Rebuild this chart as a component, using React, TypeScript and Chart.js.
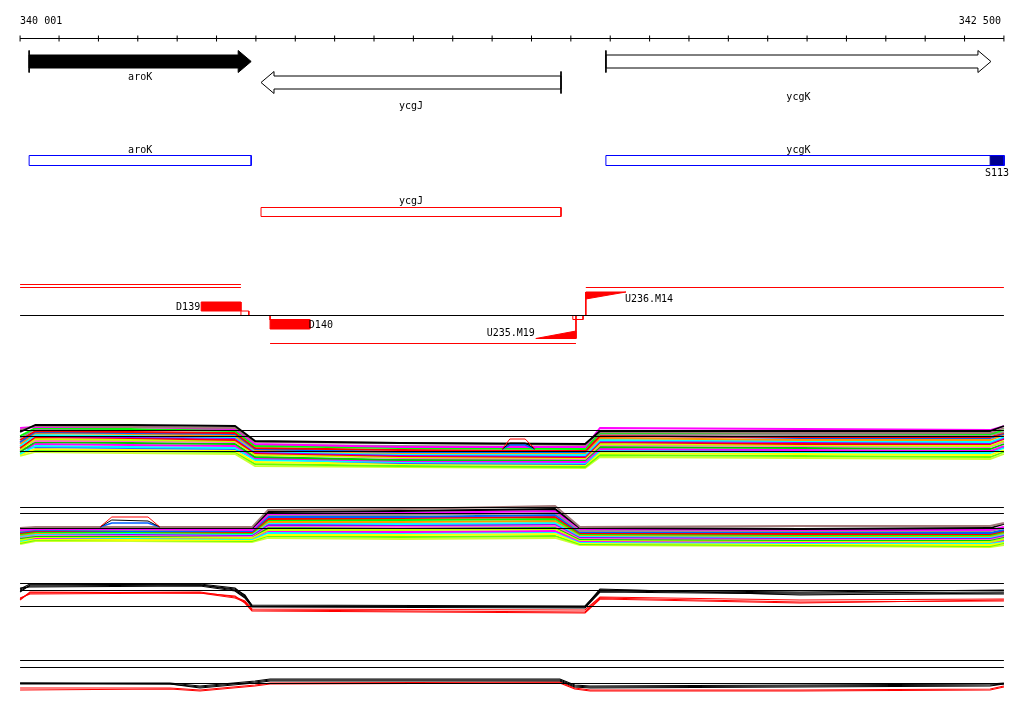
import React, { useEffect, useRef } from 'react';
import { Chart, registerables } from 'chart.js';

Chart.register(...registerables);

// ================= DATA =================
const RULER_TICKS = [
  340001, 340100, 340200, 340300, 340400, 340500, 340600, 340700, 340800, 340900,
  341000, 341100, 341200, 341300, 341400, 341500, 341600,
  341700, 341800, 341900, 342000, 342100, 342200, 342300, 342400, 342500,
];
const RULER_LABELS = ['340 001', '342 500'];
const RULER_LABEL_POS = [340001, 342500];

const GENE_NAMES = ['aroK', 'ycgJ', 'ycgK'];
const GENE_START = [340024, 340613, 341489];
const GENE_END = [340588, 341375, 342467];
const GENE_STRAND = [1, -1, 1];

const CDS_NAMES = ['aroK', 'ycgJ', 'ycgK'];
const CDS_START = [340024, 340613, 341489];
const CDS_END = [340588, 341375, 342500];
const SITE_NAMES = ['S113'];
const SITE_START = [342465];
const SITE_END = [342500];

const SEG_NAMES = ['D139', 'D140', 'U235.M19', 'U236.M14'];
const SEG_START = [340461, 340636, 341311, 341438];
const SEG_END = [340562, 340737, 341413, 341540];
const LINK_START = [340562, 341405];
const LINK_END = [340582, 341431];
const SPAN_START = [340001, 340001, 340636, 341438];
const SPAN_END = [340562, 340562, 341413, 342500];

// Track 1 (coloured profiles)
const T1_X = [340001, 340040, 340280, 340547, 340598, 340966, 341436, 341474, 341982, 342465, 342500];
const T1_REF = [430.5, 436.5, 451.5];
const T1_SERIES = [
  [432, 425, 425, 426, 441, 443, 444, 431, 431, 431, 426],
  [430, 426, 427, 428, 442, 443, 445, 432, 433, 433, 428],
  [428, 427, 427, 429, 444, 447, 447, 428, 429, 430, 426],
  [436, 428, 429, 431, 446, 448, 449, 433, 433, 434, 430],
  [438, 429, 430, 430, 445, 446, 447, 434, 435, 435, 432],
  [440, 431, 432, 433, 448, 450, 451, 436, 437, 437, 433],
  [442, 432, 433, 434, 449, 452, 452, 435, 438, 438, 434],
  [444, 433, 434, 436, 450, 453, 453, 438, 440, 440, 435],
  [446, 435, 436, 437, 451, 454, 455, 440, 441, 442, 437],
  [443, 436, 437, 438, 452, 455, 456, 441, 442, 443, 438],
  [448, 437, 438, 440, 453, 456, 457, 442, 444, 444, 439],
  [450, 439, 440, 441, 455, 457, 458, 444, 445, 446, 441],
  [447, 441, 441, 442, 454, 458, 459, 445, 446, 447, 442],
  [452, 442, 443, 444, 457, 460, 460, 447, 448, 449, 444],
  [451, 444, 445, 446, 458, 461, 462, 449, 450, 451, 446],
  [454, 446, 447, 448, 460, 462, 463, 451, 452, 453, 448],
  [449, 447, 448, 449, 459, 463, 464, 450, 451, 452, 447],
  [455, 449, 450, 451, 462, 464, 465, 453, 454, 455, 450],
  [453, 450, 451, 452, 464, 466, 467, 455, 456, 457, 452],
  [456, 452, 453, 454, 466, 467, 468, 457, 458, 459, 454],
];
const T1_BUMP_X = [341226, 341245, 341284, 341309];
const T1_BUMP_RED = [449, 439, 439, 449];
const T1_BUMP_BLACK = [449, 443, 443, 449];
const T1_BUMP_BLUE = [449, 445, 445, 449];

// Track 2 (coloured profiles)
const T2_X = [340001, 340040, 340280, 340590, 340631, 340966, 341360, 341423, 341982, 342465, 342500];
const T2_REF = [507.5, 513.5, 528.5];
const T2_SERIES = [
  [528, 527, 527, 527, 510, 509, 506, 527, 526, 526, 523],
  [528, 528, 528, 528, 512, 511, 509, 528, 529, 528, 524],
  [530, 529, 529, 530, 514, 513, 511, 529, 530, 530, 527],
  [531, 529, 530, 530, 515, 515, 513, 531, 531, 531, 528],
  [532, 530, 531, 531, 517, 517, 515, 532, 532, 533, 530],
  [533, 531, 531, 532, 519, 518, 517, 533, 534, 534, 531],
  [534, 532, 532, 533, 520, 520, 519, 534, 535, 535, 532],
  [535, 533, 532, 533, 522, 522, 521, 535, 536, 536, 533],
  [536, 534, 533, 534, 523, 524, 523, 536, 537, 537, 534],
  [535, 534, 534, 535, 525, 525, 524, 537, 538, 538, 535],
  [537, 535, 535, 536, 526, 527, 526, 538, 539, 539, 536],
  [538, 536, 536, 536, 528, 528, 527, 539, 540, 540, 537],
  [540, 537, 537, 538, 530, 530, 529, 540, 541, 542, 539],
  [539, 538, 537, 538, 531, 532, 531, 541, 542, 542, 540],
  [541, 538, 538, 539, 533, 533, 532, 542, 543, 543, 541],
  [542, 539, 540, 540, 535, 535, 534, 543, 544, 545, 542],
  [543, 540, 540, 541, 536, 537, 536, 544, 545, 546, 543],
  [544, 541, 541, 542, 538, 539, 538, 545, 546, 547, 545],
  [536, 535, 535, 536, 529, 529, 528, 538, 538, 539, 536],
  [534, 534, 534, 535, 527, 526, 525, 537, 537, 538, 535],
];
const T2_BUMP_X = [340204, 340234, 340326, 340356];
const T2_BUMP_RED = [527, 517, 517, 527];
const T2_BUMP_BLACK = [527, 520, 521, 527];
const T2_BUMP_BLUE = [527, 523, 523, 527];

// Track 3 (black / red profiles)
const T3_X = [340001, 340026, 340458, 340547, 340572, 340590, 341436, 341474, 341982, 342500];
const T3_REF = [583.5, 590.5, 606.5];
const T3_BLACK = [
  [592, 585, 584, 588, 596, 605, 606, 590, 592, 590],
  [590, 586, 585, 590, 597, 606, 607, 591, 593, 592],
  [588, 587, 586, 591, 598, 607, 608, 592, 594, 594],
  [589, 584, 585, 589, 595, 606, 607, 589, 595, 593],
];
const T3_RED = [
  [599, 593, 592, 597, 601, 609, 610, 597, 600, 599],
  [598, 594, 593, 598, 602, 610, 612, 598, 602, 601],
  [600, 592, 593, 596, 603, 611, 613, 599, 603, 600],
];

// Track 4 (black / red profiles)
const T4_X = [340001, 340382, 340458, 340598, 340636, 341372, 341410, 341449, 341982, 342465, 342500];
const T4_REF = [660.5, 667.5, 683.5];
const T4_BLACK = [
  [683, 683, 686, 681, 679, 679, 685, 686, 685, 684, 683],
  [684, 684, 687, 682, 680, 680, 686, 687, 686, 685, 684],
  [683, 684, 688, 683, 681, 681, 687, 688, 687, 686, 684],
];
const T4_RED = [
  [688, 688, 690, 685, 683, 682, 688, 690, 690, 689, 686],
  [690, 689, 691, 686, 684, 683, 689, 691, 691, 690, 687],
];

// ================= LAYOUT / STYLE =================
const X_MIN = 339950;
const X_MAX = 342551;
const FONT = '10px "DejaVu Sans Mono", "Liberation Mono", monospace';
const RED = '#ff0000';
const BLUE = '#0000ff';
const NAVY = '#000090';

const RULER_Y = 38.5;
const RULER_LABEL_Y = 24;
const GENE_Y = [61.5, 82.5, 61.5];
const GENE_BODY = 6.5;
const GENE_HEAD = 11;
const GENE_HEAD_LEN = 33;
const GENE_FILLED = [true, false, false];
const GENE_LABEL_Y = [80, 109, 100];
const CDS_TOP = [155.5, 207.5, 155.5];
const CDS_BOTTOM = [165.5, 216.5, 165.5];
const CDS_COLOR = [BLUE, RED, BLUE];
const CDS_LABEL_Y = [153, 204, 153];
const SITE_LABEL_Y = [176];

const BASE_Y = 315.5;
const SPAN_Y = [284.5, 287.5, 343.5, 287.5];
const SEG_SHAPE = ['rectUp', 'rectDown', 'triDown', 'triUp'];
const SEG_TOP = [302, 319.5, 331, 292];
const SEG_BOTTOM = [311, 329, 338.5, 299];
const SEG_STEM_FROM = [0, 315.5, 315.5, 292];
const SEG_STEM_TO = [0, 320, 338.5, 315.5];
const SEG_LABEL_Y = [310, 327.5, 335.5, 302];
const SEG_LABEL_SIDE = ['left', 'right', 'left', 'right'];
const LINK_TOP = [311, 315.5];
const LINK_BOTTOM = [315.5, 319.5];

const T1_COLORS = ['#000000', '#a07878', '#ff00ff', '#00ff00', '#909090', '#ff0000', '#0060ff', '#ff9900', '#00ffff', '#9900ff',
  '#ff0000', '#ccff00', '#ff66cc', '#00cc00', '#ff00ff', '#00ffff', '#3366ff', '#ffff00', '#66ff00', '#ccff33'];
const T2_COLORS = ['#a07878', '#000000', '#ff00ff', '#909090', '#0060ff', '#ff0000', '#00ff00', '#ff9900', '#00ffff', '#9900ff',
  '#ff66cc', '#00cc00', '#ccff00', '#ff00ff', '#00ffff', '#ffff00', '#66ff00', '#ccff33', '#ff0000', '#3366ff'];

// ================= HELPERS =================
type P = { x: number; y: number };
const pts = (xs: number[], ys: number[]): P[] => xs.map((x, i) => ({ x, y: ys[i] }));
const rect = (x0: number, x1: number, y0: number, y1: number): P[] => [
  { x: x0, y: y0 }, { x: x1, y: y0 }, { x: x1, y: y1 }, { x: x0, y: y1 }, { x: x0, y: y0 },
];
function lineDs(data: P[], color: string, width: number, extra: any = {}) {
  return {
    data, borderColor: color, backgroundColor: color, borderWidth: width,
    pointRadius: 0, pointHoverRadius: 0, fill: false, tension: 0, ...extra,
  };
}
function arrow(i: number): P[] {
  const s = GENE_START[i], e = GENE_END[i], c = GENE_Y[i];
  const t = c - GENE_BODY, b = c + GENE_BODY, ht = c - GENE_HEAD, hb = c + GENE_HEAD;
  if (GENE_STRAND[i] > 0) {
    const hx = e - GENE_HEAD_LEN;
    return [{ x: s, y: t }, { x: hx, y: t }, { x: hx, y: ht }, { x: e, y: c }, { x: hx, y: hb }, { x: hx, y: b }, { x: s, y: b }, { x: s, y: t }];
  }
  const hx = s + GENE_HEAD_LEN;
  return [{ x: e, y: t }, { x: hx, y: t }, { x: hx, y: ht }, { x: s, y: c }, { x: hx, y: hb }, { x: hx, y: b }, { x: e, y: b }, { x: e, y: t }];
}

function buildDatasets(): any[] {
  const ds: any[] = [];
  const full = [340001, 342500];
  // ruler
  ds.push(lineDs(pts(full, [RULER_Y, RULER_Y]), '#000', 1));
  ds.push({
    data: RULER_TICKS.map((t) => ({ x: t, y: RULER_Y })), showLine: false,
    pointStyle: 'line', pointRotation: 90, pointRadius: 3, pointBorderColor: '#000', pointBorderWidth: 1,
    borderColor: '#000', pointHoverRadius: 0,
  });
  // genes
  GENE_NAMES.forEach((_, i) => {
    ds.push(lineDs(arrow(i), '#000', 1, GENE_FILLED[i] ? { fill: 'shape', backgroundColor: '#000' } : {}));
    const back = GENE_STRAND[i] > 0 ? GENE_START[i] : GENE_END[i];
    ds.push(lineDs(pts([back, back], [GENE_Y[i] - GENE_HEAD, GENE_Y[i] + GENE_HEAD]), '#000', 1));
  });
  // cds boxes
  CDS_NAMES.forEach((_, i) => {
    ds.push(lineDs(rect(CDS_START[i], CDS_END[i], CDS_TOP[i], CDS_BOTTOM[i]), CDS_COLOR[i], 1));
  });
  SITE_NAMES.forEach((_, i) => {
    ds.push(lineDs(rect(SITE_START[i], SITE_END[i], CDS_TOP[2], CDS_BOTTOM[2]), NAVY, 1, { fill: 'shape', backgroundColor: NAVY }));
  });
  // segments row
  ds.push(lineDs(pts(full, [BASE_Y, BASE_Y]), '#000', 1));
  SPAN_START.forEach((s, i) => ds.push(lineDs(pts([s, SPAN_END[i]], [SPAN_Y[i], SPAN_Y[i]]), RED, 1)));
  SEG_NAMES.forEach((_, i) => {
    const s = SEG_START[i], e = SEG_END[i], t = SEG_TOP[i], b = SEG_BOTTOM[i];
    let shape: P[];
    if (SEG_SHAPE[i] === 'triDown') shape = [{ x: s, y: b }, { x: e, y: b }, { x: e, y: t }, { x: s, y: b }];
    else if (SEG_SHAPE[i] === 'triUp') shape = [{ x: s, y: t }, { x: e, y: t }, { x: s, y: b }, { x: s, y: t }];
    else shape = rect(s, e, t, b);
    ds.push(lineDs(shape, RED, 1, { fill: 'shape', backgroundColor: RED }));
    if (SEG_STEM_TO[i] > 0) {
      const sx = SEG_SHAPE[i] === 'triDown' ? e : s;
      ds.push(lineDs(pts([sx, sx], [SEG_STEM_FROM[i], SEG_STEM_TO[i]]), RED, 1));
    }
  });
  LINK_START.forEach((s, i) => ds.push(lineDs(rect(s, LINK_END[i], LINK_TOP[i], LINK_BOTTOM[i]), RED, 1)));

  // reference lines of the tracks
  [T1_REF, T2_REF, T3_REF, T4_REF].forEach((refs) =>
    refs.forEach((r) => ds.push(lineDs(pts(full, [r, r]), '#000', 1))));

  // bumps (on top of bands)
  ds.push(lineDs(pts(T1_BUMP_X, T1_BUMP_RED), RED, 1));
  ds.push(lineDs(pts(T1_BUMP_X, T1_BUMP_BLACK), '#000', 1));
  ds.push(lineDs(pts(T1_BUMP_X, T1_BUMP_BLUE), '#0060ff', 1.5));
  ds.push(lineDs(pts(T2_BUMP_X, T2_BUMP_RED), RED, 1));
  ds.push(lineDs(pts(T2_BUMP_X, T2_BUMP_BLACK), '#000', 1));
  ds.push(lineDs(pts(T2_BUMP_X, T2_BUMP_BLUE), '#0060ff', 1.5));

  // black / red tracks
  T3_BLACK.forEach((ys) => ds.push(lineDs(pts(T3_X, ys), '#000', 1.2)));
  T3_RED.forEach((ys) => ds.push(lineDs(pts(T3_X, ys), RED, 1.2)));
  T4_BLACK.forEach((ys) => ds.push(lineDs(pts(T4_X, ys), '#000', 1.2)));
  T4_RED.forEach((ys) => ds.push(lineDs(pts(T4_X, ys), RED, 1.2)));

  // coloured tracks
  T1_SERIES.forEach((ys, i) => ds.push(lineDs(pts(T1_X, ys), T1_COLORS[i], 1.8)));
  T2_SERIES.forEach((ys, i) => ds.push(lineDs(pts(T2_X, ys), T2_COLORS[i], 1.8)));
  return ds;
}

type Txt = { text: string; x: number; y: number; align: CanvasTextAlign; dx: number };
function buildTexts(): Txt[] {
  const t: Txt[] = [];
  t.push({ text: RULER_LABELS[0], x: RULER_LABEL_POS[0], y: RULER_LABEL_Y, align: 'left', dx: 0 });
  t.push({ text: RULER_LABELS[1], x: RULER_LABEL_POS[1], y: RULER_LABEL_Y, align: 'right', dx: -3 });
  GENE_NAMES.forEach((n, i) => t.push({ text: n, x: (GENE_START[i] + GENE_END[i]) / 2, y: GENE_LABEL_Y[i], align: 'center', dx: 0 }));
  CDS_NAMES.forEach((n, i) => t.push({ text: n, x: (CDS_START[i] + GENE_END[i]) / 2, y: CDS_LABEL_Y[i], align: 'center', dx: 0 }));
  SITE_NAMES.forEach((n, i) => t.push({ text: n, x: (SITE_START[i] + SITE_END[i]) / 2, y: SITE_LABEL_Y[i], align: 'center', dx: 0 }));
  SEG_NAMES.forEach((n, i) => {
    const left = SEG_LABEL_SIDE[i] === 'left';
    t.push({ text: n, x: left ? SEG_START[i] : SEG_END[i], y: SEG_LABEL_Y[i], align: left ? 'right' : 'left', dx: -1 });
  });
  return t;
}

const textPlugin = {
  id: 'genomeText',
  afterDatasetsDraw(chart: any) {
    const { ctx, scales } = chart;
    ctx.save();
    ctx.font = FONT;
    ctx.fillStyle = '#000';
    ctx.textBaseline = 'alphabetic';
    for (const l of buildTexts()) {
      ctx.textAlign = l.align;
      ctx.fillText(l.text, scales.x.getPixelForValue(l.x) + l.dx, scales.y.getPixelForValue(l.y));
    }
    ctx.restore();
  },
};

export default function App() {
  const ref = useRef<HTMLCanvasElement>(null);
  useEffect(() => {
    document.body.style.margin = '0';
    const chart = new Chart(ref.current as HTMLCanvasElement, {
      type: 'line',
      data: { datasets: buildDatasets() },
      options: {
        animation: false,
        responsive: false,
        maintainAspectRatio: false,
        devicePixelRatio: 1,
        events: [],
        layout: { padding: 0, autoPadding: false },
        plugins: { legend: { display: false }, tooltip: { enabled: false }, title: { display: false } },
        scales: {
          x: { type: 'linear', min: X_MIN, max: X_MAX, display: false },
          y: { type: 'linear', min: 0, max: 714, reverse: true, display: false },
        },
      } as any,
      plugins: [textPlugin],
    });
    return () => chart.destroy();
  }, []);
  return <canvas ref={ref} width={1024} height={714} style={{ display: 'block', width: 1024, height: 714 }} />;
}
